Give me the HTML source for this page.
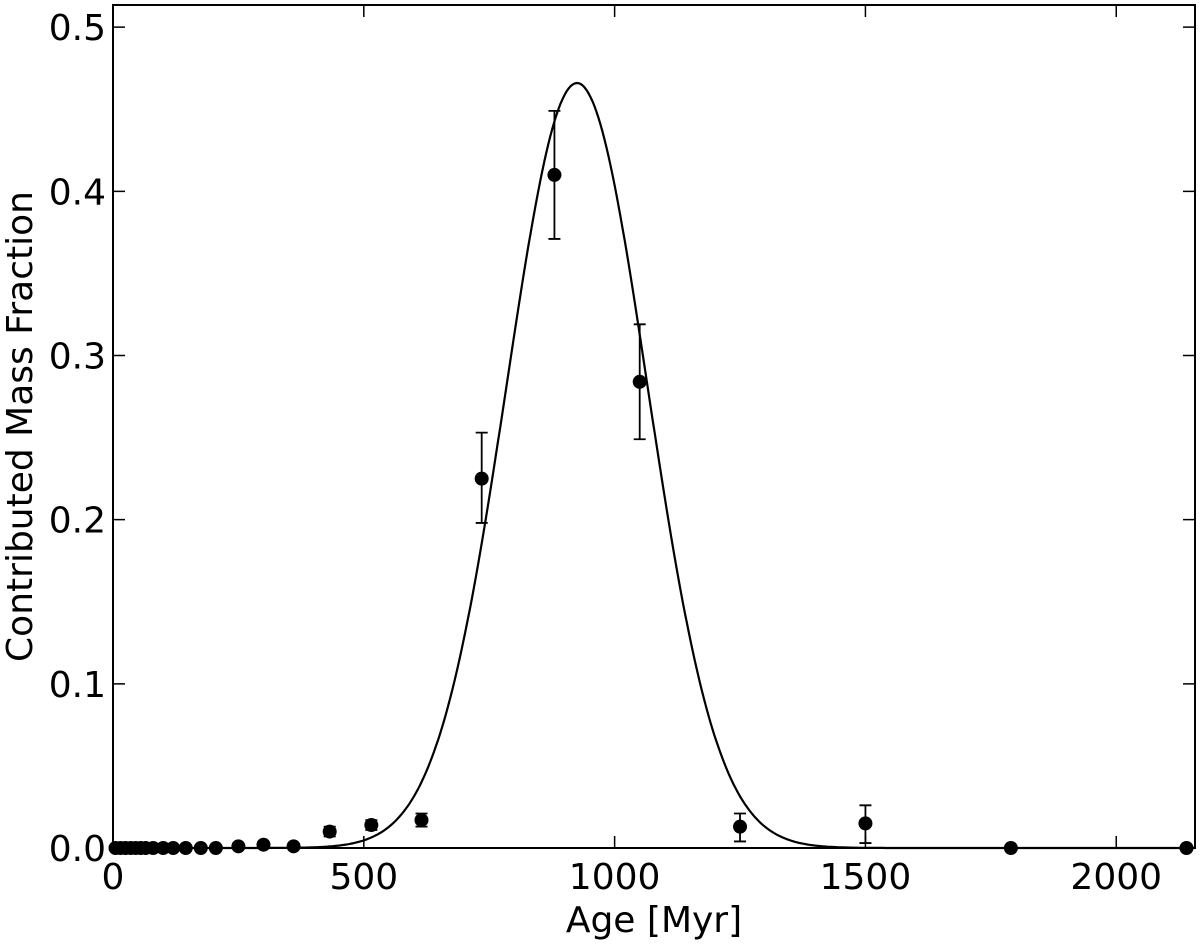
<!DOCTYPE html>
<html><head><meta charset="utf-8"><style>
body{margin:0;background:#fff}
text{font-family:"DejaVu Sans","Liberation Sans",sans-serif;fill:#000}
</style></head><body>
<svg id="chart" width="1200" height="941" viewBox="0 0 1200 941" xmlns="http://www.w3.org/2000/svg">
<g id="plot"></g>
</svg>
<script>
const ages=[5,15,25,35,45,55,65,80,100,120,145,175,205,250,300,360,432,515,615,735,880,1050,1250,1500,1790,2140];
const fractions=[0,0,0,0,0,0,0,0,0,0,0,0,0,0.001,0.002,0.001,0.010,0.014,0.017,0.225,0.410,0.284,0.013,0.015,0,0];
const errLow=[0,0,0,0,0,0,0,0,0,0,0,0,0,0,0,0,0.003,0.003,0.004,0.027,0.039,0.035,0.009,0.012,0,0];
const errHigh=[0,0,0,0,0,0,0,0,0,0,0,0,0,0,0,0,0.003,0.003,0.004,0.028,0.039,0.035,0.008,0.011,0,0];
const xTicks=[0,500,1000,1500,2000];
const yTicks=[0.0,0.1,0.2,0.3,0.4,0.5];
const fitPeak=0.466, fitCenter=925, fitSigma=140;
const L=113,R=1195,T=5,B=848;
const xMin=0,xMax=2157,yMin=0,yMax=0.5135;
const sx=v=>L+(v-xMin)/(xMax-xMin)*(R-L);
const sy=v=>B-(v-yMin)/(yMax-yMin)*(B-T);
const NS="http://www.w3.org/2000/svg";
const g=document.getElementById('plot');
function mk(t,a){const e=document.createElementNS(NS,t);for(const k in a)e.setAttribute(k,a[k]);g.appendChild(e);return e;}
// fit curve
let d="";
for(let v=xMin;v<=xMax;v+=4){const y=fitPeak*Math.exp(-0.5*Math.pow((v-fitCenter)/fitSigma,2));d+=(d?"L":"M")+sx(v).toFixed(1)+","+sy(y).toFixed(1);}
const c=mk('path',{d:d,fill:'none',stroke:'#000','stroke-width':2.2});


// points
ages.forEach((a,i)=>{
 if(errLow[i]>0||errHigh[i]>0){
  const x=sx(a),y1=sy(fractions[i]-errLow[i]),y2=sy(fractions[i]+errHigh[i]);
  const e=mk('path',{d:`M${x},${y1}V${y2}M${x-6},${y1}H${x+6}M${x-6},${y2}H${x+6}`,stroke:'#000','stroke-width':1.8,fill:'none'});
  
  
 }
 const p=mk('circle',{cx:sx(a),cy:sy(fractions[i]),r:7,fill:'#000'});
 
 
});
// frame
const f=mk('rect',{x:L,y:T,width:R-L,height:B-T,fill:'none',stroke:'#000','stroke-width':2});


xTicks.forEach(t=>{
 const x=sx(t);
 const tk=mk('path',{d:`M${x},${B}V${B-12}M${x},${T}V${T+12}`,stroke:'#000','stroke-width':1.5});
 
 
 const lb=mk('text',{x:x,y:B+41,'font-size':36,'text-anchor':'middle'});
 lb.textContent=t;
 
 
});
yTicks.forEach(t=>{
 const y=sy(t);
 const tk=mk('path',{d:`M${L},${y}H${L+12}M${R},${y}H${R-12}`,stroke:'#000','stroke-width':1.5});
 
 
 const lb=mk('text',{x:L-7,y:y+13,'font-size':36,'text-anchor':'end'});
 lb.textContent=t.toFixed(1);
 
 
});
const xt=mk('text',{x:(L+R)/2,y:932,'font-size':36,'text-anchor':'middle'});
xt.textContent='Age [Myr]';


const yt=mk('text',{x:0,y:0,'font-size':36,'text-anchor':'middle',transform:`translate(32,${(T+B)/2}) rotate(-90)`});
yt.textContent='Contributed Mass Fraction';


</script>
</body></html>
